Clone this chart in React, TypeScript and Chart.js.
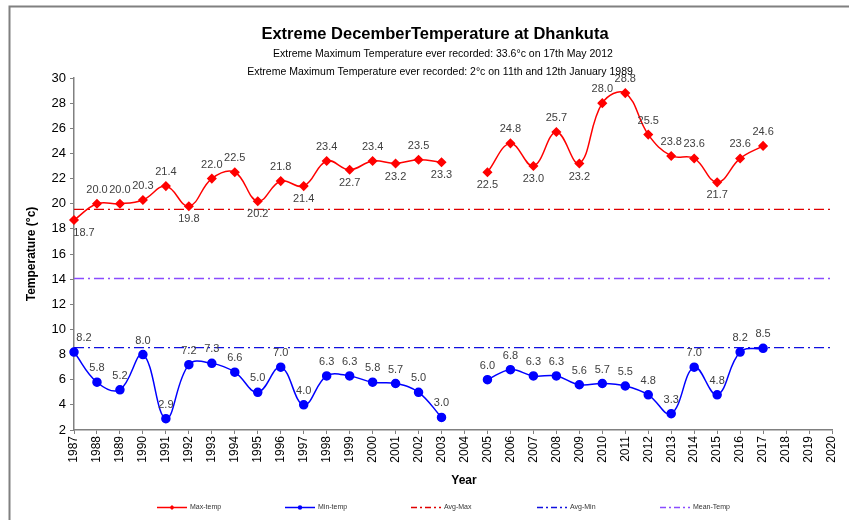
import React, { useEffect, useRef } from "react";
import { Chart, registerables } from "chart.js";

Chart.register(...registerables);

const years: string[] = [
  "1987","1988","1989","1990","1991","1992","1993","1994","1995","1996",
  "1997","1998","1999","2000","2001","2002","2003","2004","2005","2006",
  "2007","2008","2009","2010","2011","2012","2013","2014","2015","2016",
  "2017","2018","2019","2020",
];

const maxTemp: (number | null)[] = [
  18.7, 20.0, 20.0, 20.3, 21.4, 19.8, 22.0, 22.5, 20.2, 21.8,
  21.4, 23.4, 22.7, 23.4, 23.2, 23.5, 23.3, null, 22.5, 24.8,
  23.0, 25.7, 23.2, 28.0, 28.8, 25.5, 23.8, 23.6, 21.7, 23.6,
  24.6, null, null, null,
];

const minTemp: (number | null)[] = [
  8.2, 5.8, 5.2, 8.0, 2.9, 7.2, 7.3, 6.6, 5.0, 7.0,
  4.0, 6.3, 6.3, 5.8, 5.7, 5.0, 3.0, null, 6.0, 6.8,
  6.3, 6.3, 5.6, 5.7, 5.5, 4.8, 3.3, 7.0, 4.8, 8.2,
  8.5, null, null, null,
];

const AVG_MAX = 19.55;
const AVG_MIN = 8.55;
const MEAN_TEMP = 14.05;

const yTicks = { min: 2, max: 30, step: 2 };

const TITLE = "Extreme DecemberTemperature at Dhankuta";
const SUBTITLE_1 = "Extreme Maximum Temperature ever recorded: 33.6°c on 17th May 2012";
const SUBTITLE_2 = "Extreme Maximum Temperature ever recorded: 2°c on 11th and 12th January 1989";
const Y_TITLE = "Temperature (°c)";
const X_TITLE = "Year";

const seriesNames = ["Max-temp", "Min-temp", "Avg-Max", "Avg-Min", "Mean-Temp"];

const COL_MAX = "#FF0000";
const COL_MIN = "#0000FF";
const COL_AVGMAX = "#E00000";
const COL_AVGMIN = "#1010E0";
const COL_MEAN = "#8A4DFF";
const DASHDOT = [10, 4, 2, 4];

const FONT = "Arial, 'Liberation Sans', sans-serif";

const decorPlugin = {
  id: "decor",
  beforeDraw(chart: any) {
    const ctx = chart.ctx;
    ctx.save();
    ctx.fillStyle = "#ffffff";
    ctx.fillRect(0, 0, chart.width, chart.height);
    ctx.strokeStyle = "#808080";
    ctx.lineWidth = 2;
    ctx.beginPath();
    ctx.moveTo(9.5, chart.height);
    ctx.lineTo(9.5, 6.5);
    ctx.lineTo(chart.width, 6.5);
    ctx.stroke();
    ctx.restore();
  },
  afterDraw(chart: any) {
    const ctx = chart.ctx;
    const area = chart.chartArea;
    ctx.save();
    ctx.fillStyle = "#000";
    ctx.textAlign = "center";
    ctx.textBaseline = "middle";
    ctx.font = `bold 16.5px ${FONT}`;
    ctx.fillText(TITLE, 435, 34);
    ctx.font = `10.5px ${FONT}`;
    ctx.fillText(SUBTITLE_1, 443, 54);
    ctx.fillText(SUBTITLE_2, 440, 72.5);
    ctx.font = `bold 12px ${FONT}`;
    ctx.fillText(X_TITLE, 464, 481);
    ctx.save();
    ctx.translate(32, (area.top + area.bottom) / 2 + 0);
    ctx.rotate(-Math.PI / 2);
    ctx.fillText(Y_TITLE, 0, 0);
    ctx.restore();

    // legend
    const items = [
      { x: 157, color: COL_MAX, dash: [] as number[], marker: "diamond" },
      { x: 285, color: COL_MIN, dash: [] as number[], marker: "circle" },
      { x: 411, color: COL_AVGMAX, dash: [6, 3, 2, 3], marker: "" },
      { x: 537, color: COL_AVGMIN, dash: [6, 3, 2, 3], marker: "" },
      { x: 660, color: COL_MEAN, dash: [6, 3, 2, 3], marker: "" },
    ];
    const ly = 507.5;
    items.forEach((it, i) => {
      ctx.strokeStyle = it.color;
      ctx.lineWidth = 1.5;
      ctx.setLineDash(it.dash);
      ctx.beginPath();
      ctx.moveTo(it.x, ly);
      ctx.lineTo(it.x + 30, ly);
      ctx.stroke();
      ctx.setLineDash([]);
      ctx.fillStyle = it.color;
      const cx = it.x + 15;
      if (it.marker === "diamond") {
        ctx.beginPath();
        ctx.moveTo(cx, ly - 2.5);
        ctx.lineTo(cx + 2.5, ly);
        ctx.lineTo(cx, ly + 2.5);
        ctx.lineTo(cx - 2.5, ly);
        ctx.closePath();
        ctx.fill();
      } else if (it.marker === "circle") {
        ctx.beginPath();
        ctx.arc(cx, ly, 2.2, 0, Math.PI * 2);
        ctx.fill();
      }
      ctx.fillStyle = "#333";
      ctx.font = `7px ${FONT}`;
      ctx.textAlign = "left";
      ctx.fillText(seriesNames[i], it.x + 33, ly);
    });
    ctx.restore();
  },
  afterDatasetsDraw(chart: any) {
    const ctx = chart.ctx;
    ctx.save();
    ctx.font = `11px ${FONT}`;
    ctx.fillStyle = "#404040";
    ctx.textAlign = "center";
    ctx.textBaseline = "middle";
    [0, 1].forEach((di) => {
      const ds = chart.data.datasets[di];
      const meta = chart.getDatasetMeta(di);
      const vals = ds.data as (number | null)[];
      meta.data.forEach((pt: any, i: number) => {
        const v = vals[i];
        if (v === null || v === undefined) return;
        let below = false;
        if (di === 0) {
          const p = i > 0 ? vals[i - 1] : null;
          const n = i < vals.length - 1 ? vals[i + 1] : null;
          const lowerThanPrev = p === null || p === undefined || v < p;
          const lowerThanNext = n === null || n === undefined || v < n;
          below = lowerThanPrev && lowerThanNext;
        }
        const y = below ? pt.y + 13 : pt.y - 14;
        ctx.fillText(v.toFixed(1), pt.x + (i === 0 ? 10 : 0), y);
      });
    });
    ctx.restore();
  },
};

export default function App() {
  const ref = useRef<HTMLCanvasElement | null>(null);
  useEffect(() => {
    if (!ref.current) return;
    const constLine = (v: number) => years.map(() => v);
    const chart = new Chart(ref.current, {
      type: "line",
      data: {
        labels: years,
        datasets: [
          {
            label: seriesNames[0],
            data: maxTemp,
            borderColor: COL_MAX,
            backgroundColor: COL_MAX,
            borderWidth: 1.5,
            pointStyle: "rectRot",
            pointRadius: 4,
            tension: 0.4,
            spanGaps: false,
          },
          {
            label: seriesNames[1],
            data: minTemp,
            borderColor: COL_MIN,
            backgroundColor: COL_MIN,
            borderWidth: 1.5,
            pointStyle: "circle",
            pointRadius: 4,
            tension: 0.4,
            spanGaps: false,
          },
          {
            label: seriesNames[2],
            data: constLine(AVG_MAX),
            borderColor: COL_AVGMAX,
            borderWidth: 1.2,
            borderDash: DASHDOT,
            pointRadius: 0,
          },
          {
            label: seriesNames[3],
            data: constLine(AVG_MIN),
            borderColor: COL_AVGMIN,
            borderWidth: 1.2,
            borderDash: DASHDOT,
            pointRadius: 0,
          },
          {
            label: seriesNames[4],
            data: constLine(MEAN_TEMP),
            borderColor: COL_MEAN,
            borderWidth: 1.5,
            borderDash: DASHDOT,
            pointRadius: 0,
          },
        ],
      },
      options: {
        responsive: false,
        animation: false,
        layout: { padding: { top: 78, right: 17, left: 10, bottom: 0 } },
        plugins: {
          legend: { display: false },
          title: { display: false },
          tooltip: { enabled: false },
        },
        scales: {
          x: {
            type: "category",
            offset: false,
            grid: {
              display: true,
              drawOnChartArea: false,
              drawTicks: true,
              tickLength: 4,
              color: "#808080",
            },
            border: { display: true, color: "#808080", width: 1.5 },
            ticks: {
              autoSkip: false,
              maxRotation: 90,
              minRotation: 90,
              padding: 2,
              color: "#000",
              font: { family: FONT, size: 12 },
            },
            afterFit(scale: any) {
              scale.height = 90;
            },
          },
          y: {
            min: yTicks.min,
            max: yTicks.max,
            grid: {
              display: true,
              drawOnChartArea: false,
              drawTicks: true,
              tickLength: 4,
              color: "#808080",
            },
            border: { display: true, color: "#808080", width: 1.5 },
            ticks: {
              stepSize: yTicks.step,
              padding: 4,
              color: "#000",
              font: { family: FONT, size: 13 },
            },
            afterFit(scale: any) {
              scale.width = 64;
            },
          },
        },
      },
      plugins: [decorPlugin],
    } as any);
    return () => chart.destroy();
  }, []);
  return (
    <div style={{ position: "absolute", left: 0, top: 0, width: 849, height: 520 }}>
      <canvas ref={ref} width={849} height={520} style={{ display: "block" }} />
    </div>
  );
}
